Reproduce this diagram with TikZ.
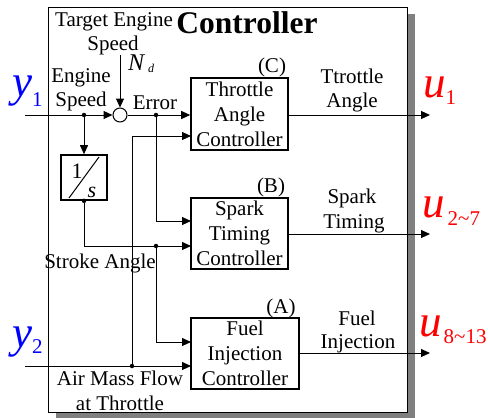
\documentclass[tikz,border=0pt]{standalone}
\usepackage{fontspec}
\setmainfont{Liberation Serif}
\usetikzlibrary{arrows.meta}
\begin{document}
\begin{tikzpicture}[x=1pt,y=-1pt,
  txt/.style={font=\fontsize{21}{25}\selectfont, inner sep=0pt, anchor=base},
  ctrl/.style={draw, line width=1.6pt, align=center, font=\fontsize{21}{25}\selectfont, inner sep=0pt},
  conn/.style={line width=1pt, -{Triangle[length=9pt,width=8pt]}},
  wire/.style={line width=1pt},
  dot/.style={circle, fill, inner sep=0pt, minimum size=4.5pt},
  sig/.style={anchor=base west, inner sep=0pt, font=\itshape\fontsize{45}{45}\selectfont}
  ]
\useasboundingbox (0,0) rectangle (488,418);
% frame with shadow
\fill[gray] (56,14) rectangle (415,418);
\draw[fill=white, line width=1pt] (48,7) rectangle (407,412);

% title and labels
\node[txt, font=\bfseries\fontsize{31.5}{32}\selectfont] (title) at (247,33) {Controller};
\node[txt] (tes1) at (114,26) {Target Engine};
\node[txt] (tes2) at (113,50) {Speed};
\node[txt] (es1) at (81,82) {Engine};
\node[txt] (es2) at (81,106) {Speed};
\node[txt] (err) at (155,109) {Error};
\node[anchor=base west, inner sep=0pt, font=\itshape\fontsize{24}{24}\selectfont] (nd) at (128,70) {N\hspace{4pt}\raisebox{-2pt}{\fontsize{12}{12}\selectfont d}};

% summing junction
\node[circle, draw, line width=1pt, minimum size=14pt, inner sep=0pt] (sum) at (120,115) {};
\coordinate (in1) at (25,115);
\coordinate (in2) at (25,366);
\coordinate (tgt) at (120,55);
\node[dot] (d1) at (84,115) {};
\node[dot] (d2) at (156,115) {};

% integrator
\node[draw, line width=1.6pt, minimum width=46pt, minimum height=45pt, inner sep=0pt] (int) at (84,177.5) {};
\draw[line width=1pt] (69,198) -- (99,157);
\node[txt, font=\fontsize{22}{22}\selectfont] (one) at (77,178) {1};
\node[txt, font=\itshape\fontsize{22}{22}\selectfont] (ess) at (92,197) {s};
\node[dot] (d3) at (int.south) {};
\node[dot] (d4) at (156,246) {};
\node[dot] (d5) at (132,366) {};

% controllers
\node[ctrl, minimum width=97pt, minimum height=72pt] (thr) at (239.5,114) {Throttle\\Angle\\Controller};
\node[ctrl, minimum width=97pt, minimum height=71pt] (spk) at (239.5,233.5) {Spark\\Timing\\Controller};
\node[ctrl, minimum width=108pt, minimum height=71pt] (fuel) at (245,353.5) {Fuel\\Injection\\Controller};

\coordinate (tin2) at (191,136);
\coordinate (sin1) at (191,221);
\coordinate (sin2) at (191,246);
\coordinate (fin1) at (191,342);
\coordinate (fin2) at (191,366);
\coordinate (o1) at (430,115);
\coordinate (o2) at (430,234);
\coordinate (o3) at (430,353);

% connectors
\draw[conn] (in1) -- (sum.west);
\draw[conn] (tgt) -- (sum.north);
\draw[conn] (d1) -- (int.north);
\draw[conn] (sum.east) -- (thr.west |- sum.east);
\draw[conn] (d2) |- (sin1);
\draw[conn] (d3) |- (sin2);
\draw[conn] (d4) |- (fin1);
\draw[conn] (in2) -- (fin2);
\draw[conn] (d5) |- (tin2);
\draw[conn] (thr.east |- o1) -- (o1);
\draw[conn] (spk.east |- o2) -- (o2);
\draw[conn] (fuel.east |- o3) -- (o3);

% block tags and signal labels
\node[txt] (tc) at (272,72) {(C)};
\node[txt] (tb) at (271,192) {(B)};
\node[txt] (ta) at (281,313) {(A)};
\node[txt] (l1a) at (352,83) {Ttrottle};
\node[txt] (l1b) at (352,107) {Angle};
\node[txt] (l2a) at (352,203) {Spark};
\node[txt] (l2b) at (354,228) {Timing};
\node[txt] (l3a) at (357,325) {Fuel};
\node[txt] (l3b) at (358,348) {Injection};
\node[txt] (sa) at (100,268) {Stroke Angle};
\node[txt] (am1) at (120,385) {Air Mass Flow};
\node[txt] (am2) at (120,410) {at Throttle};

% inputs and outputs
\node[sig, text=blue] (y1) at (12,96) {y\raisebox{-10pt}{\upshape\fontsize{21}{21}\selectfont 1}};
\node[sig, text=blue] (y2) at (12,347) {y\raisebox{-6pt}{\upshape\fontsize{21}{21}\selectfont 2}};
\node[sig, text=red] (u1) at (423,97) {u\raisebox{-7pt}{\upshape\fontsize{21}{21}\selectfont 1}};
\node[sig, text=red] (u2) at (422,217) {u\hspace{3pt}\raisebox{-8pt}{\upshape\fontsize{21}{21}\selectfont 2\textasciitilde 7}};
\node[sig, text=red] (u3) at (419,336) {u\hspace{2pt}\raisebox{-7pt}{\upshape\fontsize{21}{21}\selectfont 8\textasciitilde 13}};
\end{tikzpicture}
\end{document}
